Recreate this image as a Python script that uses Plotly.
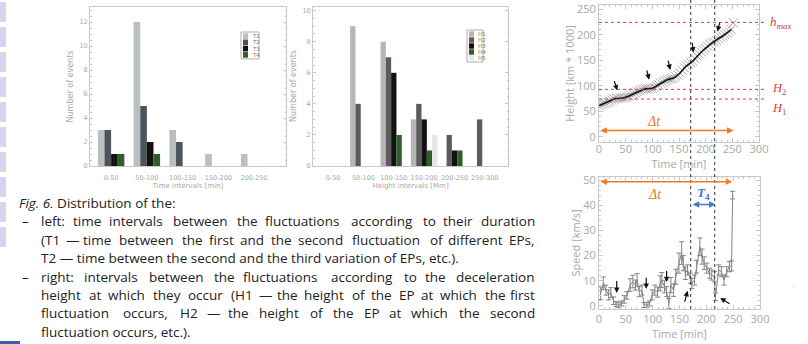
import plotly.graph_objects as go

W, H = 808, 344

# ---------------- data ----------------
time_bins = ["0-50", "50-100", "100-150", "150-200", "200-250"]
T1 = [3, 12, 3, 1, 1]
T2 = [3, 5, 2, 0, 0]
T3 = [1, 2, 0, 0, 0]
T4 = [1, 1, 0, 0, 0]
time_series_names = ["T1", "T2", "T3", "T4"]
time_colors = ["#b9c0c2", "#4b555b", "#121212", "#2f5e28"]

height_bins = ["0-50", "50-100", "100-150", "150-200", "200-250", "250-300"]
H1 = [0, 9, 8, 3, 0, 0]
H2 = [0, 4, 7, 4, 2, 3]
H3 = [0, 0, 6, 3, 1, 0]
H4 = [0, 0, 2, 1, 1, 0]
H5 = [0, 0, 0, 2, 0, 0]
height_series_names = ["H1", "H2", "H3", "H4", "H5"]
height_colors = ["#b7b5b7", "#5e5b5b", "#121212", "#2f5e28", "#e6e6e6"]

height_t = [0, 4, 8, 12, 16, 20, 24, 28, 32, 36, 40, 44, 48, 52, 56, 60, 64, 68, 72, 76,
            80, 84, 88, 92, 96, 100, 104, 108, 112, 116, 120, 124, 128, 132, 136, 140, 144,
            148, 152, 156, 160, 164, 168, 172, 176, 180, 184, 188, 192, 196, 200, 204, 208,
            212, 216, 220, 224, 228, 232, 236, 240, 244, 248, 252]
height_km = [61, 63, 65, 66, 68, 70, 72, 74, 75, 75, 76, 76, 77, 78, 80, 82, 84, 86, 88, 90,
             92, 93, 94, 94, 95, 95, 97, 100, 102, 105, 107, 110, 112, 113, 114, 115, 118,
             121, 125, 130, 135, 139, 142, 145, 148, 153, 158, 162, 166, 170, 173, 177, 181,
             184, 186, 189, 192, 195, 197, 200, 203, 206, 210, 223]

speed_t = [3, 8, 13, 18, 22, 27, 32, 37, 42, 47, 52, 58, 63, 68, 71, 75, 80, 84, 89, 94,
           99, 104, 109, 114, 117, 122, 126, 130, 134, 139, 143, 149, 154, 157, 161, 165,
           170, 173, 178, 182, 188, 192, 196, 201, 206, 210, 215, 217, 223, 228, 233, 238,
           243, 247, 249]
speed_v = [5, 9, 6.3, 4.4, 5.3, 2.1, 0.8, 0.3, 1, 2.6, 4.2, 8.3, 9.7, 8.3, 10.3, 5.7, 6.3,
           0.4, 0.4, 1, 4.4, 6.3, 5.5, 9, 10.3, 7.7, 5.7, 1, 8.3, 6.3, 11.6, 17, 21, 17, 13,
           14.3, 11, 9, 10.3, 15.6, 23.5, 19.6, 17, 15, 13, 12.3, 11.6, 3.7, 14.3, 13.6, 10.3,
           13.6, 15.6, 15.9, 44]
speed_err = [2.5, 2.5, 2, 2, 2, 1.5, 1, 1, 1, 1.5, 1.5, 2.5, 2.5, 2, 2.5, 2, 2, 1, 1, 1,
             2, 2, 2, 3, 3, 2.5, 2, 2, 3, 2.5, 3, 4, 4.5, 3, 2.5, 2, 2, 2, 2, 2.5, 3.5, 3,
             2.5, 2, 2, 2, 2, 1.5, 2, 2, 2, 2, 2, 2, 1.5]

h_max, H_2, H_1 = 224, 93, 74
t_start, t_end = 172, 217
dt_end = 252

caption = [
    "Distribution of the:",
    "left: time intervals between the fluctuations according to their duration",
    "(T1 — time between the first and the second fluctuation of different EPs,",
    "T2 — time between the second and the third variation of EPs, etc.).",
    "right: intervals between the fluctuations according to the deceleration",
    "height at which they occur (H1 — the height of the EP at which the first",
    "fluctuation occurs, H2 — the height of the EP at which the second",
    "fluctuation occurs, etc.).",
]
caption_justified = [False, True, True, False, True, True, True, False]

# ---------------- helpers ----------------
def px(x):
    return x / W

def py(y):
    return 1 - y / H

fig = go.Figure()

nT = len(time_series_names)
slot_t = 0.185
for k, (name, vals) in enumerate(zip(time_series_names, [T1, T2, T3, T4])):
    fig.add_trace(go.Bar(x=list(range(len(time_bins))), y=vals, name=name,
                         marker=dict(color=time_colors[k], line=dict(width=0)),
                         width=slot_t, offset=-nT * slot_t / 2 + k * slot_t,
                         xaxis="x", yaxis="y", showlegend=False))

nH = len(height_series_names)
slot_h = 0.175
for k, (name, vals) in enumerate(zip(height_series_names, [H1, H2, H3, H4, H5])):
    fig.add_trace(go.Bar(x=list(range(len(height_bins))), y=vals, name=name,
                         marker=dict(color=height_colors[k], line=dict(width=0)),
                         width=slot_h, offset=-nH * slot_h / 2 + k * slot_h,
                         xaxis="x2", yaxis="y2", showlegend=False))

fig.add_trace(go.Scatter(x=height_t, y=height_km, mode="markers",
                         marker=dict(symbol="x-thin-open", size=9, color="#a4a4a4",
                                     line=dict(color="#a4a4a4", width=1)),
                         xaxis="x3", yaxis="y3", showlegend=False))
fig.add_trace(go.Scatter(x=height_t[:-1], y=height_km[:-1], mode="lines",
                         line=dict(color="#151515", width=1.6),
                         xaxis="x3", yaxis="y3", showlegend=False))

fig.add_trace(go.Scatter(x=speed_t, y=speed_v, mode="lines",
                         line=dict(color="#858585", width=1),
                         error_y=dict(type="data", array=speed_err, color="#858585",
                                      thickness=1, width=2.5),
                         xaxis="x4", yaxis="y4", showlegend=False))

gray_tick = "#a8a8a8"
frame = "#c8c8c8"

def bar_x(domain, rng, labels, title):
    return dict(domain=domain, range=rng, tickvals=list(range(len(labels))), ticktext=labels,
                tickfont=dict(size=6.5, color=gray_tick, family="DejaVu Sans"),
                showline=True, linecolor=frame, linewidth=1, mirror=True, ticks="",
                showgrid=False, zeroline=False, automargin=False, ticklabelstandoff=5,
                title=dict(text=title, font=dict(size=7, color=gray_tick, family="DejaVu Sans"),
                           standoff=1))

def bar_y(domain, rng, anchor):
    return dict(domain=domain, range=rng, dtick=2, anchor=anchor,
                tickfont=dict(size=6.5, color=gray_tick, family="DejaVu Sans"),
                showline=True, linecolor=frame, linewidth=1, mirror="ticks",
                ticks="inside", ticklen=3, tickcolor=frame,
                minor=dict(ticks="inside", ticklen=1.5, tickcolor=frame, nticks=5),
                showgrid=False, zeroline=False, automargin=False,
                title=dict(text="Number of events",
                           font=dict(size=8, color=gray_tick, family="DejaVu Sans"), standoff=4))

def line_ax(domain, rng, title, anchor, dtick, label_standoff=None):
    d = dict(domain=domain, range=rng, dtick=dtick, anchor=anchor,
             tickfont=dict(size=11, color=gray_tick, family="Open Sans"),
             showline=True, linecolor=frame, linewidth=1, mirror="ticks",
             ticks="inside", ticklen=4, tickcolor=frame,
             minor=dict(ticks="inside", ticklen=2, tickcolor=frame, nticks=6),
             showgrid=False, zeroline=False, automargin=False,
             title=dict(text=title, font=dict(size=11, color=gray_tick, family="Open Sans"),
                        standoff=0))
    if label_standoff is not None:
        d["ticklabelstandoff"] = label_standoff
    return d

fig.update_layout(
    width=W, height=H, margin=dict(l=0, r=0, t=0, b=0, autoexpand=False),
    paper_bgcolor="white", plot_bgcolor="white", barmode="overlay",
    xaxis=bar_x([px(90), px(286)], [-0.59, 4.89], time_bins, "Time intervals [min]"),
    yaxis=bar_y([py(166), py(7)], [0, 13.25], "x"),
    xaxis2=bar_x([px(313), px(508)], [-0.66, 5.76], height_bins, "Height intervals [Mm]"),
    yaxis2=bar_y([py(166), py(6)], [0, 10.3], "x2"),
    xaxis3=line_ax([px(599), px(759)], [0, 300], "Time [min]", "y3", 50, -3),
    yaxis3=line_ax([py(142), py(5)], [-10, 258], "Height [km * 1000]", "x3", 50),
    xaxis4=line_ax([px(599), px(760)], [0, 300], "Time [min]", "y4", 50, 0),
    yaxis4=line_ax([py(309), py(177)], [-1.2, 51.2], "Speed [km/s]", "x4", 10),
    font=dict(family="Open Sans"),
)

shapes = []
annotations = []

# slide thumbnail strip on the left
for y0 in range(0, 250, 25):
    shapes.append(dict(type="rect", xref="paper", yref="paper", x0=0, x1=px(6),
                       y0=py(y0 + 22), y1=py(y0 + 2), fillcolor="#d5d5f0", line=dict(width=0),
                       layer="below"))
shapes.append(dict(type="rect", xref="paper", yref="paper", x0=0, x1=px(20),
                   y0=0, y1=py(341), fillcolor="#3d5fb0", line=dict(width=0)))

def legend(x0, x1, ytop, ybot, names, colors):
    shapes.append(dict(type="rect", xref="paper", yref="paper", x0=px(x0), x1=px(x1),
                       y0=py(ybot), y1=py(ytop), line=dict(color="#999", width=0.8),
                       fillcolor="white"))
    n = len(names)
    row = (ybot - ytop - 2) / n
    for i, (nm, c) in enumerate(zip(names, colors)):
        yc = ytop + 1 + row * (i + 0.5)
        shapes.append(dict(type="rect", xref="paper", yref="paper", x0=px(x0 + 2),
                           x1=px(x0 + 7), y0=py(yc + row / 2 - 0.3), y1=py(yc - row / 2 + 0.3),
                           fillcolor=c, line=dict(width=0)))
        annotations.append(dict(xref="paper", yref="paper", x=px(x0 + 8.5), y=py(yc),
                                text=nm, showarrow=False, xanchor="left", yanchor="middle",
                                font=dict(size=5.5, color="#777", family="DejaVu Sans")))

legend(241, 259, 32, 59, time_series_names, time_colors)
legend(467, 483, 30, 62, height_series_names, height_colors)

red = "#e0383c"
for hv in (h_max, H_2, H_1):
    shapes.append(dict(type="line", xref="paper", yref="y3", x0=px(599), x1=px(765),
                       y0=hv, y1=hv, line=dict(color=red, width=1, dash="dot")))
annotations += [
    dict(xref="paper", yref="y3", x=px(768), y=h_max, text="<i>h<sub>max</sub></i>",
         showarrow=False, xanchor="left", yanchor="middle",
         font=dict(size=13, color=red, family="Liberation Serif")),
    dict(xref="paper", yref="y3", x=px(770), y=H_2, text="<i>H</i><sub>2</sub>",
         showarrow=False, xanchor="left", yanchor="middle",
         font=dict(size=12.5, color=red, family="Liberation Serif")),
    dict(xref="paper", yref="y3", x=px(770), y=H_1 - 20, text="<i>H</i><sub>1</sub>",
         showarrow=False, xanchor="left", yanchor="middle",
         font=dict(size=12.5, color=red, family="Liberation Serif")),
]

for tv in (t_start, t_end):
    shapes.append(dict(type="line", xref="x3", yref="paper", x0=tv, x1=tv,
                       y0=py(309), y1=1, line=dict(color="#333", width=1, dash="dot")))

orange = "#f07a22"
blue = "#3b78d0"

def darrow(xa, ya, x0, x1, y, color):
    annotations.append(dict(xref=xa, yref=ya, axref=xa, ayref=ya, x=x1, y=y, ax=x0, ay=y,
                            text="", showarrow=True, arrowside="end+start", arrowhead=2,
                            arrowsize=0.8, arrowwidth=1.6, arrowcolor=color))

darrow("x3", "y3", 0, dt_end, 12.4, orange)
darrow("x4", "y4", 0, dt_end - 4, 49.3, orange)
darrow("x4", "y4", t_start, t_end, 40.3, blue)
annotations += [
    dict(xref="x3", yref="y3", x=104, y=30, text="<i>Δt</i>", showarrow=False,
         font=dict(size=14, color=orange, family="Liberation Serif")),
    dict(xref="x4", yref="y4", x=104, y=44.3, text="<i>Δt</i>", showarrow=False,
         font=dict(size=14, color=orange, family="Liberation Serif")),
    dict(xref="x4", yref="y4", x=195, y=44.5, text="<b><i>T</i><sub>4</sub></b>",
         showarrow=False, font=dict(size=13, color=blue, family="Liberation Serif")),
]

def arrow(xa, ya, x0, y0, x1, y1):
    annotations.append(dict(xref=xa, yref=ya, axref=xa, ayref=ya, x=x1, y=y1, ax=x0, ay=y0,
                            text="", showarrow=True, arrowhead=2, arrowsize=0.9,
                            arrowwidth=1.2, arrowcolor="#111"))

for a in [(28, 112, 34, 91), (89, 133, 94, 112), (129, 152, 133.5, 131),
          (174.5, 187, 177, 165), (227, 226, 222, 206)]:
    arrow("x3", "y3", *a)
for a in [(33, 10.5, 33, 5.2), (88, 11.8, 88, 6.8), (126, 14.5, 126, 9.5),
          (159, 1, 165, 6), (246, 0.5, 226, 3.2)]:
    arrow("x4", "y4", *a)

# ---------------- caption (justified like the slide) ----------------
CW = {'a': .556, 'b': .613, 'c': .480, 'd': .613, 'e': .561, 'f': .336, 'g': .546,
      'h': .614, 'i': .258, 'j': .258, 'k': .529, 'l': .258, 'm': .932, 'n': .614,
      'o': .602, 'p': .613, 'q': .613, 'r': .409, 's': .477, 't': .353, 'u': .614,
      'v': .500, 'w': .776, 'x': .522, 'y': .500, 'z': .468, 'E': .556, 'P': .603,
      'H': .738, 'T': .556, '1': .572, '2': .572, ':': .266, ',': .245, '.': .266,
      '(': .296, ')': .296, '—': .830, ' ': .260}
FS = 13.5
WSCALE = 1.08
X_LEFT, X_RIGHT = 39, 537

def text_w(s):
    return sum(CW.get(ch, 0.56) for ch in s) * FS * WSCALE

cap_font = dict(size=FS, color="#222", family="Open Sans")
line_y = [203 + 18.4 * i for i in range(len(caption))]
for i, (txt, yy, just) in enumerate(zip(caption, line_y, caption_justified)):
    if i == 0:
        annotations.append(dict(xref="paper", yref="paper", x=px(17), y=py(yy),
                                text="<i>Fig. 6.</i> " + txt, showarrow=False,
                                xanchor="left", yanchor="middle", font=cap_font))
        continue
    if not just:
        annotations.append(dict(xref="paper", yref="paper", x=px(X_LEFT), y=py(yy), text=txt,
                                showarrow=False, xanchor="left", yanchor="middle",
                                font=cap_font))
        continue
    words = txt.split(" ")
    widths = [text_w(w) for w in words]
    gap = (X_RIGHT - X_LEFT - sum(widths)) / (len(words) - 1)
    x = X_LEFT
    for j, (wd, wv) in enumerate(zip(words, widths)):
        if j == len(words) - 1:
            annotations.append(dict(xref="paper", yref="paper", x=px(X_RIGHT), y=py(yy),
                                    text=wd, showarrow=False, xanchor="right",
                                    yanchor="middle", font=cap_font))
        else:
            annotations.append(dict(xref="paper", yref="paper", x=px(x), y=py(yy), text=wd,
                                    showarrow=False, xanchor="left", yanchor="middle",
                                    font=cap_font))
        x += wv + gap
for yy in (line_y[1], line_y[4]):
    annotations.append(dict(xref="paper", yref="paper", x=px(20), y=py(yy), text="–",
                            showarrow=False, xanchor="left", yanchor="middle", font=cap_font))

annotations.append(dict(xref="paper", yref="paper", x=px(797), y=py(293), text="·",
                        showarrow=False, font=dict(size=8, color="#777")))

fig.update_layout(shapes=shapes, annotations=annotations)
fig.write_html("out.html", config={"displayModeBar": False},
               post_script="document.body.style.margin='0';document.body.style.overflow='hidden';")
